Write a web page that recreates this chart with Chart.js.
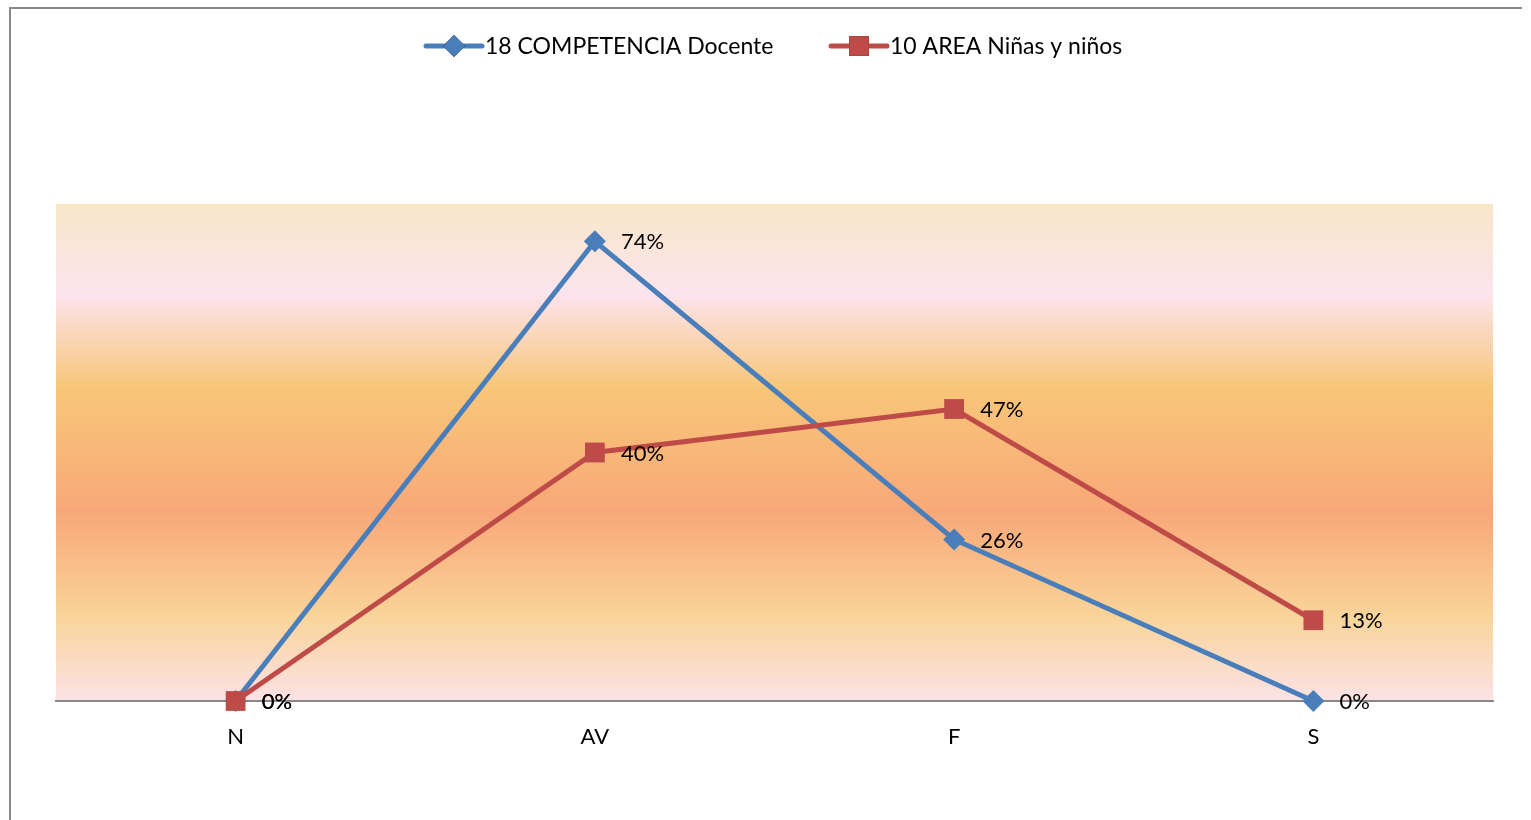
<!DOCTYPE html>
<html>
<head>
<meta charset="utf-8">
<script src="https://cdn.jsdelivr.net/npm/chart.js@4.4.1/dist/chart.umd.min.js"></script>
<style>
  html, body { margin: 0; padding: 0; background: #fff; }
  #wrap { width: 1531px; height: 820px; position: relative; }
</style>
</head>
<body>
<div id="wrap"><canvas id="chart"></canvas></div>
<script>
const categories = ["N", "AV", "F", "S"];
const docenteValues = [0, 0.74, 0.26, 0];
const ninosValues = [0, 0.40, 0.47, 0.13];
const seriesNames = ["18 COMPETENCIA Docente", "10 AREA Niñas y niños"];

const FONT = "Lato, 'Open Sans', sans-serif";
const BLUE = "#4A7EBB";
const RED = "#BE4B48";

// frame + gradient behind the plot
const backdrop = {
    id: "backdrop",
    beforeDraw(chart) {
        const { ctx, chartArea: a } = chart;
        ctx.save();
        const g = ctx.createLinearGradient(0, a.top, 0, a.bottom);
        g.addColorStop(0, "#F9E6C8");
        g.addColorStop(0.18, "#FCE4EE");
        g.addColorStop(0.37, "#F8C678");
        g.addColorStop(0.62, "#F8A878");
        g.addColorStop(0.83, "#F9D49A");
        g.addColorStop(1, "#FCE2E6");
        ctx.fillStyle = g;
        ctx.fillRect(a.left, a.top, a.right - a.left, a.bottom - a.top);

        ctx.strokeStyle = "#888";
        ctx.lineWidth = 2;
        ctx.beginPath();
        ctx.moveTo(10, 820);
        ctx.lineTo(10, 8);
        ctx.lineTo(1522, 8);
        ctx.stroke();
        ctx.restore();
    }
};

// percentage labels to the right of each point, plus the legend
const labelsAndLegend = {
    id: "labelsAndLegend",
    afterDraw(chart) {
        const { ctx } = chart;
        ctx.save();
        ctx.font = "22px " + FONT;
        ctx.fillStyle = "#000";
        ctx.textBaseline = "middle";
        ctx.textAlign = "left";
        chart.data.datasets.forEach((ds, i) => {
            chart.getDatasetMeta(i).data.forEach((pt, j) => {
                ctx.fillText(Math.round(ds.data[j] * 100) + "%", pt.x + 26, pt.y + 1);
            });
        });

        const items = [
            { x: 426, color: BLUE, style: "rectRot", radius: 11 },
            { x: 831, color: RED, style: "rect", radius: 14 }
        ];
        ctx.font = "23px " + FONT;
        items.forEach((it, i) => {
            ctx.strokeStyle = it.color;
            ctx.lineWidth = 5;
            ctx.lineCap = "round";
            ctx.beginPath();
            ctx.moveTo(it.x, 46);
            ctx.lineTo(it.x + 56, 46);
            ctx.stroke();
            Chart.helpers.drawPoint(ctx, {
                pointStyle: it.style, radius: it.radius, rotation: 0, borderWidth: 0
            }, it.x + 28, 46);
            ctx.fillStyle = it.color;
            ctx.fill();
            ctx.fillStyle = "#000";
            ctx.fillText(seriesNames[i], it.x + 59, 47);
        });
        ctx.restore();
    }
};

new Chart(document.getElementById("chart"), {
    type: "line",
    data: {
        labels: categories,
        datasets: [{
            label: seriesNames[0],
            data: docenteValues,
            order: 1,
            borderColor: BLUE,
            backgroundColor: BLUE,
            borderWidth: 5,
            pointStyle: "rectRot",
            pointRadius: 11,
            pointHoverRadius: 11,
            pointBorderWidth: 0,
            tension: 0
        }, {
            label: seriesNames[1],
            data: ninosValues,
            order: 0,
            borderColor: RED,
            backgroundColor: RED,
            borderWidth: 5,
            pointStyle: "rect",
            pointRadius: 14,
            pointHoverRadius: 14,
            pointBorderWidth: 0,
            tension: 0
        }]
    },
    options: {
        responsive: true,
        maintainAspectRatio: false,
        animation: false,
        clip: false,
        layout: {
            padding: { left: 56, right: 38, top: 204, bottom: 69 }
        },
        scales: {
            x: {
                offset: true,
                grid: { display: false },
                border: { display: true, color: "#888", width: 2 },
                ticks: { color: "#000", padding: 15, font: { family: FONT, size: 22 } },
                afterFit(scale) { scale.height = 50; }
            },
            y: {
                display: false,
                min: 0,
                max: 0.8
            }
        },
        plugins: {
            legend: { display: false },
            tooltip: { enabled: false }
        }
    },
    plugins: [backdrop, labelsAndLegend]
});
</script>
</body>
</html>
